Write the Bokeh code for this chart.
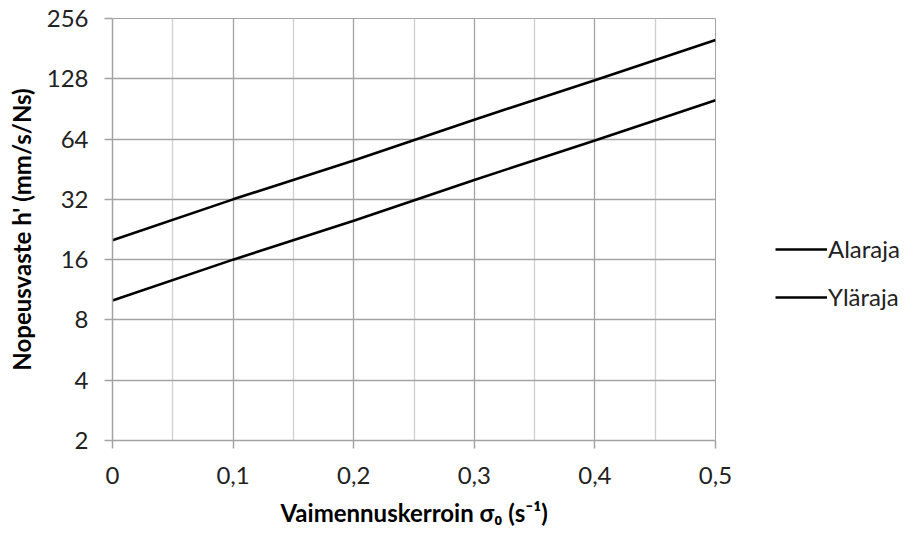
from bokeh.plotting import figure
from bokeh.layouts import row
from bokeh.models import Range1d, FixedTicker, CustomJSTickFormatter, Legend, LegendItem
from bokeh.embed import file_html
from bokeh.resources import INLINE

# Data
x_values = [0.0, 0.1, 0.2, 0.3, 0.4, 0.5]
alaraja = [10, 16, 25, 40, 63, 100]
ylaraja = [20, 32, 50, 80, 126, 200]
x_ticks = [0.0, 0.1, 0.2, 0.3, 0.4, 0.5]
x_minor = [0.05, 0.15, 0.25, 0.35, 0.45]
y_ticks = [2, 4, 8, 16, 32, 64, 128, 256]
series_names = ["Alaraja", "Yläraja"]

FONT = "Lato"
GRID = "#a3a3a3"
MINOR = "#cfcfcf"

p = figure(width=740, height=533, output_backend="svg", toolbar_location=None,
           y_axis_type="log",
           x_range=Range1d(0, 0.5), y_range=Range1d(2, 256),
           min_border_left=112, min_border_right=25,
           min_border_top=18, min_border_bottom=93)
p.outline_line_color = GRID
p.background_fill_color = "white"
p.border_fill_color = "white"

p.line(x_values, alaraja, line_color="black", line_width=2.6)
p.line(x_values, ylaraja, line_color="black", line_width=2.6)

# x axis
p.xaxis.ticker = FixedTicker(ticks=x_ticks, minor_ticks=x_minor)
p.xaxis.formatter = CustomJSTickFormatter(
    code="return tick == 0 ? '0' : tick.toFixed(1).replace('.', ',');")
p.xaxis.axis_label = "Vaimennuskerroin σ₀ (s⁻¹)"
p.xaxis.axis_label_text_font = FONT
p.xaxis.axis_label_text_font_style = "bold"
p.xaxis.axis_label_text_font_size = "24px"
p.xaxis.axis_label_text_color = "black"
p.xaxis.axis_label_standoff = 11
p.xaxis.major_label_standoff = 18

# y axis
p.yaxis.ticker = FixedTicker(ticks=y_ticks, minor_ticks=[])
p.yaxis.formatter = CustomJSTickFormatter(code="return tick.toFixed(0);")
p.yaxis.axis_label = "Nopeusvaste h' (mm/s/Ns)"
p.yaxis.axis_label_text_font = FONT
p.yaxis.axis_label_text_font_style = "bold"
p.yaxis.axis_label_text_font_size = "24px"
p.yaxis.axis_label_text_color = "black"
p.yaxis.axis_label_standoff = 8
p.yaxis.major_label_standoff = 16

for ax in (p.xaxis, p.yaxis):
    ax.major_label_text_font = FONT
    ax.major_label_text_font_size = "24px"
    ax.major_label_text_color = "#222222"
    ax.axis_line_color = GRID
    ax.axis_line_width = 1.5
    ax.major_tick_line_color = GRID
    ax.major_tick_line_width = 1.5
    ax.major_tick_in = 0
    ax.major_tick_out = 8
    ax.minor_tick_line_color = None

p.xgrid.ticker = FixedTicker(ticks=x_ticks, minor_ticks=x_minor)
p.xgrid.grid_line_color = GRID
p.xgrid.grid_line_width = 1.3
p.xgrid.minor_grid_line_color = MINOR
p.xgrid.minor_grid_line_width = 1.3
p.ygrid.ticker = FixedTicker(ticks=y_ticks, minor_ticks=[])
p.ygrid.grid_line_color = GRID
p.ygrid.grid_line_width = 1.3

# Legend area (separate panel to the right of the chart)
lg = figure(width=169, height=533, output_backend="svg", toolbar_location=None,
            x_axis_type=None, y_axis_type=None,
            x_range=Range1d(0, 1), y_range=Range1d(0, 1),
            min_border=0)
lg.outline_line_color = None
lg.grid.visible = False
# legend key renderers: their data lies outside the visible range, only the key shows
d1 = lg.line([5, 6], [5, 6], line_color="black", line_width=2.6)
d2 = lg.line([5, 6], [5, 6], line_color="black", line_width=2.6)

legend = Legend(items=[LegendItem(label=series_names[0], renderers=[d1]),
                       LegendItem(label=series_names[1], renderers=[d2])],
                location=(35, 129))
legend.padding = 0
legend.margin = 0
legend.border_line_color = None
legend.background_fill_alpha = 0
legend.glyph_width = 52
legend.glyph_height = 24
legend.label_height = 24
legend.spacing = 19
legend.label_standoff = 1
legend.label_text_font = FONT
legend.label_text_font_size = "24px"
legend.label_text_color = "#222222"
lg.add_layout(legend, "center")

layout = row(p, lg, spacing=0)
open("out.html", "w").write(file_html(layout, INLINE))
